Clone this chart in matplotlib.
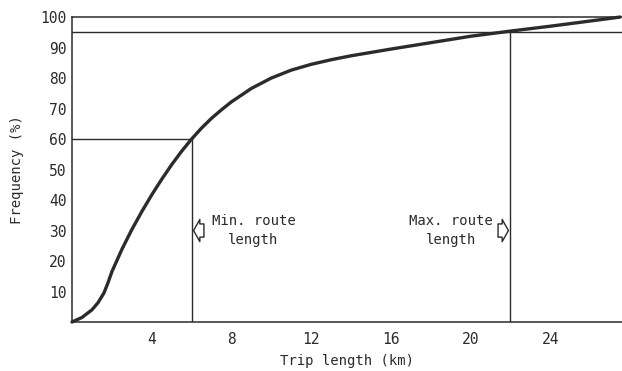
import matplotlib.pyplot as plt

# trip length distribution (cumulative)
trip_km = [0, 0.5, 1.0, 1.3, 1.6, 1.8, 2.0, 2.5, 3.0, 3.5, 4.0, 4.5, 5.0, 5.5,
           6.0, 6.5, 7.0, 7.5, 8.0, 9.0, 10.0, 11.0, 12.0, 13.0, 14.0, 16.0,
           18.0, 20.0, 22.0, 24.0, 26.0, 27.5]
freq_pct = [0, 1.5, 4.0, 6.3, 9.5, 12.8, 16.5, 23.8, 30.3, 36.2, 41.7, 46.8,
            51.6, 56.0, 60.0, 63.6, 66.8, 69.6, 72.2, 76.6, 80.0, 82.6, 84.5,
            86.0, 87.3, 89.5, 91.6, 93.7, 95.4, 97.0, 98.7, 100]

x_ticks = [4, 8, 12, 16, 20, 24]
y_ticks = [10, 20, 30, 40, 50, 60, 70, 80, 90, 100]

min_route = 6     # km, at 60 %
min_freq = 60
max_route = 22    # km, at 95 %
max_freq = 95

ink = "#2b2b2b"
plt.rcParams["font.family"] = "DejaVu Sans Mono"

fig = plt.figure(figsize=(6.22, 3.71), dpi=100)
ax = fig.add_axes([0.1158, 0.132, 0.8842, 0.822])

ax.plot(trip_km, freq_pct, c=ink, lw=2.4, solid_capstyle="round",
        solid_joinstyle="round", clip_on=False, zorder=3)

# reference lines
ax.axhline(100, c=ink, lw=1.1, clip_on=False)
ax.axhline(max_freq, c=ink, lw=1.0)
ax.plot([0, min_route], [min_freq, min_freq], c=ink, lw=1.0)
ax.plot([min_route, min_route], [0, min_freq], c=ink, lw=1.0)
ax.plot([max_route, max_route], [0, max_freq], c=ink, lw=1.0)

# hollow arrows with labels
arrow = dict(arrowstyle="simple,head_length=0.45,head_width=1.6,tail_width=0.95",
             fc="white", ec=ink, lw=1.0, shrinkA=0, shrinkB=0)
ax.annotate("", xy=(min_route + 0.1, 30), xytext=(min_route + 0.62, 30), arrowprops=arrow)
ax.text(min_route + 1.0, 30, "Min. route\nlength", ha="left", va="center",
        fontsize=10, color=ink, linespacing=1.4, multialignment="center")

ax.annotate("", xy=(max_route - 0.1, 30), xytext=(max_route - 0.62, 30), arrowprops=arrow)
ax.text(max_route - 0.9, 30, "Max. route\nlength", ha="right", va="center",
        fontsize=10, color=ink, linespacing=1.4, multialignment="center")

ax.set_xlim(0, 27.6)
ax.set_ylim(0, 100)
ax.set_xticks(x_ticks)
ax.set_yticks(y_ticks)
ax.tick_params(axis="both", length=0, labelsize=10.5, colors=ink)
ax.tick_params(axis="x", pad=7)
ax.tick_params(axis="y", pad=4)

for side in ["top", "right"]:
    ax.spines[side].set_visible(False)
for side in ["left", "bottom"]:
    ax.spines[side].set_color(ink)
    ax.spines[side].set_linewidth(1.1)

ax.set_xlabel("Trip length (km)", fontsize=10, color=ink, labelpad=5)
ax.set_ylabel("Frequency (%)", fontsize=10, color=ink, labelpad=12)

fig.savefig("out.png", dpi=100)
